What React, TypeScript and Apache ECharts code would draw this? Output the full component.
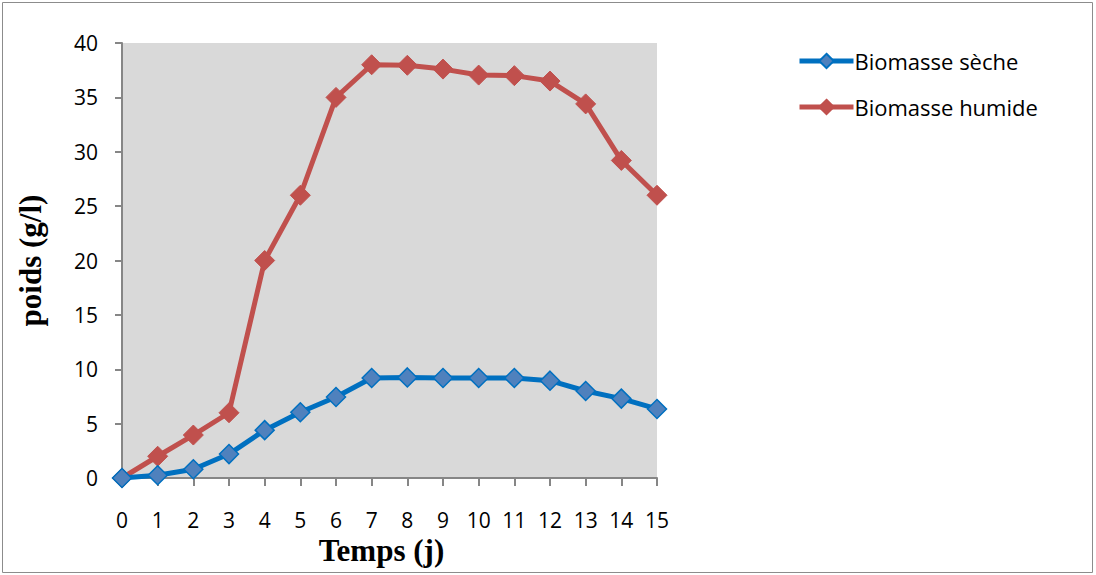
import React, { useEffect, useRef } from "react";
import * as echarts from "echarts";

const days = [0, 1, 2, 3, 4, 5, 6, 7, 8, 9, 10, 11, 12, 13, 14, 15];
const biomasseSeche = [0, 0.25, 0.8, 2.2, 4.4, 6.05, 7.45, 9.2, 9.25, 9.2, 9.2, 9.2, 8.95, 8.0, 7.3, 6.35];
const biomasseHumide = [0, 2.0, 3.95, 6.0, 20.0, 26.0, 35.0, 38.0, 37.95, 37.6, 37.05, 37.0, 36.5, 34.4, 29.2, 26.0];
const seriesNames = ["Biomasse sèche", "Biomasse humide"];
const xTitle = "Temps (j)";
const yTitle = "poids (g/l)";

export default function App() {
  const ref = useRef<HTMLDivElement>(null);
  useEffect(() => {
    if (!ref.current) return;
    const chart = echarts.init(ref.current, undefined, { renderer: "svg" });
    const pair = (arr: number[]) => days.map((d, i) => [d, arr[i]]);
    chart.setOption({
      animation: false,
      backgroundColor: "#ffffff",
      textStyle: { fontFamily: "Open Sans" },
      grid: { left: 122, right: 439, top: 43, bottom: 97, show: true, backgroundColor: "#D9D9D9", borderWidth: 0 },
      graphic: [
        { type: "rect", shape: { x: 2.5, y: 2.5, width: 1090, height: 570 }, style: { fill: "none", stroke: "#8c8c8c", lineWidth: 1 } },
      ],
      legend: {
        orient: "vertical",
        left: 792,
        top: 45,
        itemWidth: 54,
        itemHeight: 18,
        itemGap: 24,
        padding: 5,
        lineStyle: { width: 5 },
        textStyle: { fontSize: 22, color: "#000", fontFamily: "Open Sans", padding: [0, 0, 0, -4] },
        data: seriesNames,
      },
      xAxis: {
        type: "value",
        min: 0,
        max: 15,
        interval: 1,
        name: xTitle,
        nameLocation: "middle",
        nameGap: 56,
        nameTextStyle: { fontFamily: "Liberation Serif", fontWeight: "bold", fontSize: 31, color: "#000", padding: [0, 16, 0, 0] },
        axisLine: { lineStyle: { color: "#868686", width: 2 } },
        axisTick: { length: 8, lineStyle: { color: "#868686", width: 2 } },
        axisLabel: { fontSize: 21, color: "#000", margin: 31 },
        splitLine: { show: false },
      },
      yAxis: {
        type: "value",
        min: 0,
        max: 40,
        interval: 5,
        name: yTitle,
        nameLocation: "middle",
        nameGap: 76,
        nameRotate: 90,
        nameTextStyle: { fontFamily: "Liberation Serif", fontWeight: "bold", fontSize: 31, color: "#000" },
        axisLine: { show: true, lineStyle: { color: "#868686", width: 2 } },
        axisTick: { show: true, length: 7, lineStyle: { color: "#868686", width: 2 } },
        axisLabel: { fontSize: 21, color: "#000", margin: 24 },
        splitLine: { show: false },
      },
      series: [
        {
          name: seriesNames[0],
          type: "line",
          data: pair(biomasseSeche),
          symbol: "diamond",
          symbolSize: 19,
          lineStyle: { color: "#0070C0", width: 5 },
          itemStyle: { color: "#4F81BD", borderColor: "#0070C0", borderWidth: 1.5 },
          z: 3,
        },
        {
          name: seriesNames[1],
          type: "line",
          data: pair(biomasseHumide),
          symbol: "diamond",
          symbolSize: 20,
          lineStyle: { color: "#C0504D", width: 5 },
          itemStyle: { color: "#C0504D", borderColor: "#C0504D", borderWidth: 1 },
          z: 2,
        },
      ],
    });
    return () => chart.dispose();
  }, []);
  return <div ref={ref} style={{ position: "fixed", left: 0, top: 0, width: 1096, height: 575 }} />;
}
